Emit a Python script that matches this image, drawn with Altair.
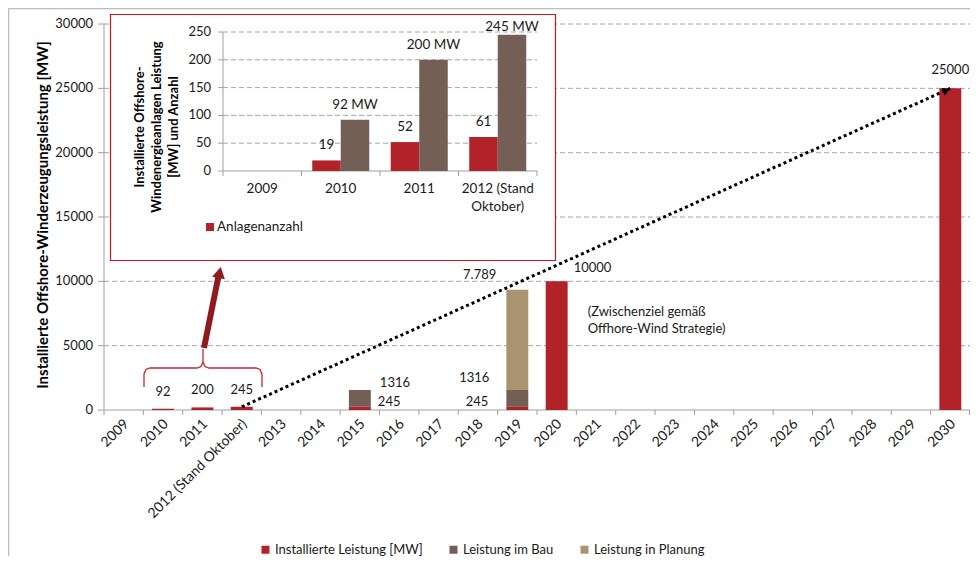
import altair as alt
import pandas as pd

FONT = "Lato"
RED = "#B22229"
BROWN = "#735F55"
TAN = "#AA9470"
GRID = "#A6A6A6"
AXIS = "#A0A0A0"
TXT = "#1A1A1A"

# ---------------- main chart data ----------------
years = ["2009", "2010", "2011", "2012 (Stand Oktober)", "2013", "2014", "2015", "2016",
         "2017", "2018", "2019", "2020", "2021", "2022", "2023", "2024", "2025", "2026",
         "2027", "2028", "2029", "2030"]
installiert = [0, 92, 200, 245, 0, 0, 245, 0, 0, 0, 245, 10000, 0, 0, 0, 0, 0, 0, 0, 0, 0, 25000]
im_bau = [0, 0, 0, 0, 0, 0, 1316, 0, 0, 0, 1316, 0, 0, 0, 0, 0, 0, 0, 0, 0, 0, 0]
planung = [0, 0, 0, 0, 0, 0, 0, 0, 0, 0, 7789, 0, 0, 0, 0, 0, 0, 0, 0, 0, 0, 0]
series = ["Installierte Leistung [MW]", "Leistung im Bau", "Leistung in Planung"]
series_colors = [RED, BROWN, TAN]
y_ticks = [0, 5000, 10000, 15000, 20000, 25000, 30000]
y_title = "Installierte Offshore-Winderzeugungsleistung [MW]"

# ---------------- inset data ----------------
inset_cats = ["2009", "2010", "2011", "2012"]
inset_labels = ["2009", "2010", "2011", "2012 (Stand\nOktober)"]
anlagenanzahl = [0, 19, 52, 61]
leistung_mw = [0, 92, 200, 245]
inset_ticks = [0, 50, 100, 150, 200, 250]
inset_title_txt = "Installierte Offshore-\nWindenergieanlagen Leistung\n[MW] und Anzahl"

W, H = 866, 386
PL, PT, PR, PB = 96, 16, 0, 146

one = pd.DataFrame({"a": [0]})

rows = []
for i, y in enumerate(years):
    for k, (s, vals) in enumerate(zip(series, [installiert, im_bau, planung])):
        if vals[i] > 0:
            rows.append({"year": y, "series": s, "value": vals[i], "ord": k})
df_main = pd.DataFrame(rows)

x_main = alt.Scale(domain=years, paddingInner=0, paddingOuter=0)
y_main = alt.Scale(domain=[0, 30000], nice=False)

def X(field="year:N", **kw):
    return alt.X(field, scale=x_main, axis=None, **kw)

def Y(field="value:Q", **kw):
    return alt.Y(field, scale=y_main, axis=None, **kw)

bars = alt.Chart(df_main).mark_bar(width=alt.RelativeBandSize(0.557)).encode(
    x=X(),
    y=Y(stack="zero"),
    color=alt.Color("series:N", scale=alt.Scale(domain=series, range=series_colors),
                    legend=alt.Legend(title=None, orient="none", legendX=155, legendY=519,
                                      direction="horizontal", symbolType="square",
                                      symbolSize=64, symbolStrokeWidth=0, labelFont=FONT,
                                      labelFontSize=13, labelColor=TXT, columnPadding=24,
                                      labelOffset=3)),
    order=alt.Order("ord:Q", sort="ascending"),
)

# --- manual main axes ---
yt_df = pd.DataFrame({"value": y_ticks, "label": [str(v) for v in y_ticks]})
m_grid = alt.Chart(yt_df[yt_df.value > 0]).mark_rule(
    color=GRID, strokeDash=[5, 3], strokeWidth=1).encode(
    y=Y(), x=alt.value(0), x2=alt.value(W))
m_yticks = alt.Chart(yt_df).mark_rule(color=AXIS).encode(
    y=Y(), x=alt.value(-6), x2=alt.value(0))
m_ylabels = alt.Chart(yt_df).mark_text(
    align="right", baseline="middle", font=FONT, fontSize=13, color=TXT).encode(
    y=Y(), x=alt.value(-11), text="label:N")
m_ydomain = alt.Chart(one).mark_rule(color=AXIS).encode(
    x=alt.value(0), y=alt.value(0), y2=alt.value(H))
m_xdomain = alt.Chart(one).mark_rule(color=AXIS).encode(
    y=alt.value(H), x=alt.value(0), x2=alt.value(W))
yrs_df = pd.DataFrame({"year": years})
m_xticks = alt.Chart(yrs_df).mark_rule(color=AXIS).encode(
    x=X(bandPosition=0), y=alt.value(H), y2=alt.value(H + 5))
m_xtick_end = alt.Chart(one).mark_rule(color=AXIS).encode(
    x=alt.value(W - 0.5), y=alt.value(H), y2=alt.value(H + 5))
m_xlabels = alt.Chart(yrs_df).mark_text(
    angle=315, align="right", baseline="middle", font=FONT, fontSize=14, color=TXT,
    xOffset=3, yOffset=12).encode(
    x=X(), y=alt.value(H), text="year:N")
m_ytitle = alt.Chart(one).mark_text(
    angle=270, align="center", baseline="middle", font=FONT, fontSize=15,
    fontWeight="bold", color="#000").encode(
    x=alt.value(-61), y=alt.value(H / 2 - 2), text=alt.value(y_title))

def total(y):
    i = years.index(y)
    return installiert[i] + im_bau[i] + planung[i]

# annotation: (year, anchor value, text, dx, dy, align)
annots = [
    ("2010", installiert[1], "92", 0, -17, "center"),
    ("2011", installiert[2], "200", 0, -17, "center"),
    ("2012 (Stand Oktober)", installiert[3], "245", 0, -17, "center"),
    ("2015", installiert[6] + im_bau[6], "1316", 20, -7, "left"),
    ("2015", installiert[6], "245", 18, -5, "left"),
    ("2019", installiert[10] + im_bau[10], "1316", -28, -12, "right"),
    ("2019", installiert[10], "245", -29, -5, "right"),
    ("2019", total("2019"), "7.789", -21, -15, "right"),
    ("2020", installiert[11], "10000", 17, -13, "left"),
    ("2020", installiert[11], "(Zwischenziel gemäß", 31, 31, "left"),
    ("2020", installiert[11], "Offhore-Wind Strategie)", 31, 48, "left"),
    ("2030", installiert[21], "25000", 0, -18, "center"),
]
ann_layers = []
for (yr, v, t, dx, dy, al) in annots:
    ann_layers.append(
        alt.Chart(pd.DataFrame({"year": [yr], "value": [v], "label": [t]}))
        .mark_text(dx=dx, dy=dy, align=al, baseline="middle", font=FONT, fontSize=13, color=TXT)
        .encode(x=X(), y=Y(), text="label:N")
    )

# dotted trend arrow from 2012 to 2030
trend_df = pd.DataFrame({"year": ["2012 (Stand Oktober)", "2030"],
                         "value": [installiert[3], installiert[21]]})
trend = alt.Chart(trend_df).mark_line(color="black", strokeWidth=3, strokeDash=[3, 3]).encode(
    x=X(), y=Y())
trend_head = alt.Chart(trend_df.iloc[[1]]).mark_point(
    shape="triangle-up", filled=True, color="black", opacity=1, size=64, angle=66,
    xOffset=-4, yOffset=2).encode(x=X(), y=Y())

main = alt.layer(m_grid, m_ydomain, m_xdomain, m_yticks, m_xticks, m_xtick_end,
                 bars, m_ylabels, m_xlabels, m_ytitle, trend, trend_head, *ann_layers)

# ---------------- inset ----------------
IX0, IX1 = 119, 433
IY0, IY1 = 147, 8
inset_x = alt.Scale(domain=inset_cats, range=[IX0, IX1], paddingInner=0, paddingOuter=0)
inset_y = alt.Scale(domain=[0, 250], range=[IY0, IY1], nice=False)

inset_bg = alt.Chart(one).mark_rect(fill="white", stroke="#C8141C", strokeWidth=1.2).encode(
    x=alt.value(6.5), x2=alt.value(451.5), y=alt.value(-9.5), y2=alt.value(236.5))

ticks_df = pd.DataFrame({"v": inset_ticks})
inset_grid = alt.Chart(ticks_df[ticks_df.v > 0]).mark_rule(
    color=GRID, strokeDash=[5, 3], strokeWidth=1).encode(
    y=alt.Y("v:Q", scale=inset_y, axis=None), x=alt.value(IX0), x2=alt.value(IX1))
inset_yticks = alt.Chart(ticks_df).mark_rule(color=AXIS).encode(
    y=alt.Y("v:Q", scale=inset_y, axis=None), x=alt.value(IX0 - 5), x2=alt.value(IX0))
inset_ylabels = alt.Chart(ticks_df).mark_text(
    align="right", baseline="middle", font=FONT, fontSize=13, color=TXT).encode(
    y=alt.Y("v:Q", scale=inset_y, axis=None), x=alt.value(IX0 - 12), text="v:Q")
inset_ydomain = alt.Chart(one).mark_rule(color=AXIS).encode(
    x=alt.value(IX0), y=alt.value(IY1), y2=alt.value(IY0))
inset_xdomain = alt.Chart(one).mark_rule(color=AXIS).encode(
    y=alt.value(IY0), x=alt.value(IX0), x2=alt.value(IX1))

cats_df = pd.DataFrame({"cat": inset_cats, "label": inset_labels})
inset_xticks = alt.Chart(cats_df).mark_rule(color=AXIS).encode(
    x=alt.X("cat:N", scale=inset_x, bandPosition=0, axis=None),
    y=alt.value(IY0), y2=alt.value(IY0 + 5))
inset_xtick_end = alt.Chart(one).mark_rule(color=AXIS).encode(
    x=alt.value(IX1), y=alt.value(IY0), y2=alt.value(IY0 + 5))
inset_xlabels = alt.Chart(cats_df).mark_text(
    baseline="top", align="center", lineBreak="\n", lineHeight=18,
    font=FONT, fontSize=13.5, color=TXT).encode(
    x=alt.X("cat:N", scale=inset_x, axis=None), y=alt.value(IY0 + 11), text="label:N")

ib_rows = []
for c, a, m in zip(inset_cats, anlagenanzahl, leistung_mw):
    ib_rows.append({"cat": c, "s": "Anlagenanzahl", "value": a, "label": str(a) if a else ""})
    ib_rows.append({"cat": c, "s": "Leistung", "value": m, "label": f"{m} MW" if m else ""})
ib_df = pd.DataFrame(ib_rows)
xoff = alt.XOffset("s:N", scale=alt.Scale(domain=["Anlagenanzahl", "Leistung"],
                                          paddingInner=0, paddingOuter=0.377))
inset_bars = alt.Chart(ib_df).mark_bar().encode(
    x=alt.X("cat:N", scale=inset_x, axis=None),
    xOffset=xoff,
    y=alt.Y("value:Q", scale=inset_y, axis=None),
    color=alt.Color("s:N", scale=alt.Scale(domain=["Anlagenanzahl", "Leistung"],
                                           range=[RED, BROWN]), legend=None),
)
lab_low = ib_df[(ib_df.label != "") & (ib_df.value < 240)]
lab_top = ib_df[(ib_df.label != "") & (ib_df.value >= 240)]
inset_vlabels = alt.Chart(lab_low).mark_text(
    dy=-15, baseline="middle", font=FONT, fontSize=13.5, color=TXT).encode(
    x=alt.X("cat:N", scale=inset_x, axis=None), xOffset=xoff,
    y=alt.Y("value:Q", scale=inset_y, axis=None), text="label:N")
inset_vlabels_top = alt.Chart(lab_top).mark_text(
    dy=-8, baseline="middle", font=FONT, fontSize=13.5, color=TXT).encode(
    x=alt.X("cat:N", scale=inset_x, axis=None), xOffset=xoff,
    y=alt.Y("value:Q", scale=inset_y, axis=None), text="label:N")

inset_leg_sym = alt.Chart(one).mark_square(color=RED, size=64, opacity=1).encode(
    x=alt.value(106), y=alt.value(203))
inset_leg_txt = alt.Chart(one).mark_text(
    align="left", baseline="middle", font=FONT, fontSize=13.5, color=TXT).encode(
    x=alt.value(113), y=alt.value(203), text=alt.value("Anlagenanzahl"))
inset_title = alt.Chart(one).mark_text(
    angle=270, align="center", baseline="middle", lineBreak="\n", lineHeight=17,
    font=FONT, fontSize=13, fontWeight="bold", color="#000").encode(
    x=alt.value(36), y=alt.value(103), text=alt.value(inset_title_txt))

inset = alt.layer(inset_bg, inset_grid, inset_yticks, inset_ylabels, inset_ydomain,
                  inset_xdomain, inset_xticks, inset_xtick_end, inset_xlabels, inset_bars,
                  inset_vlabels, inset_vlabels_top, inset_leg_sym, inset_leg_txt, inset_title)

# ---------------- decorations: brace, arrow, frame ----------------
brace_pts = [(40, 363), (40, 350), (42, 345.5), (46, 344), (93, 344), (97, 342.5), (99, 338),
             (99, 325), (99, 338), (101, 342.5), (105, 344), (152, 344), (156, 345.5),
             (158, 350), (158, 363)]
brace_df = pd.DataFrame({"px": [p[0] for p in brace_pts], "py": [p[1] for p in brace_pts],
                         "i": list(range(len(brace_pts)))})
brace = alt.Chart(brace_df).mark_line(color="#C0282D", strokeWidth=1.3).encode(
    x=alt.X("px:Q", scale=None, axis=None), y=alt.Y("py:Q", scale=None, axis=None),
    order="i:Q")
arrow_df = pd.DataFrame({"px": [100, 114.5], "py": [324, 252], "i": [0, 1]})
arrow = alt.Chart(arrow_df).mark_line(color="#8E1B1F", strokeWidth=6).encode(
    x=alt.X("px:Q", scale=None, axis=None), y=alt.Y("py:Q", scale=None, axis=None),
    order="i:Q")
arrow_head = alt.Chart(pd.DataFrame({"px": [115.6], "py": [248.5]})).mark_point(
    shape="triangle-up", filled=True, color="#8E1B1F", opacity=1, size=170, angle=11.5).encode(
    x=alt.X("px:Q", scale=None, axis=None), y=alt.Y("py:Q", scale=None, axis=None))
frame_left = alt.Chart(one).mark_rule(color="#BDBDBD", strokeWidth=1.5).encode(
    x=alt.value(-95.5), y=alt.value(-15.5), y2=alt.value(H + PB))
frame_top = alt.Chart(one).mark_rule(color="#BDBDBD", strokeWidth=1.5).encode(
    y=alt.value(-15.5), x=alt.value(-95.5), x2=alt.value(W + PR))

deco = alt.layer(brace, arrow, arrow_head, frame_left, frame_top)

chart = alt.layer(main, inset, deco).resolve_scale(
    x="independent", y="independent", color="independent"
).properties(
    width=W, height=H,
    autosize=alt.AutoSizeParams(type="none"),
    padding={"left": PL, "top": PT, "right": PR, "bottom": PB},
    background="white",
).configure_view(stroke=None)

chart.save("out.html", embed_options={"renderer": "svg", "actions": False})
